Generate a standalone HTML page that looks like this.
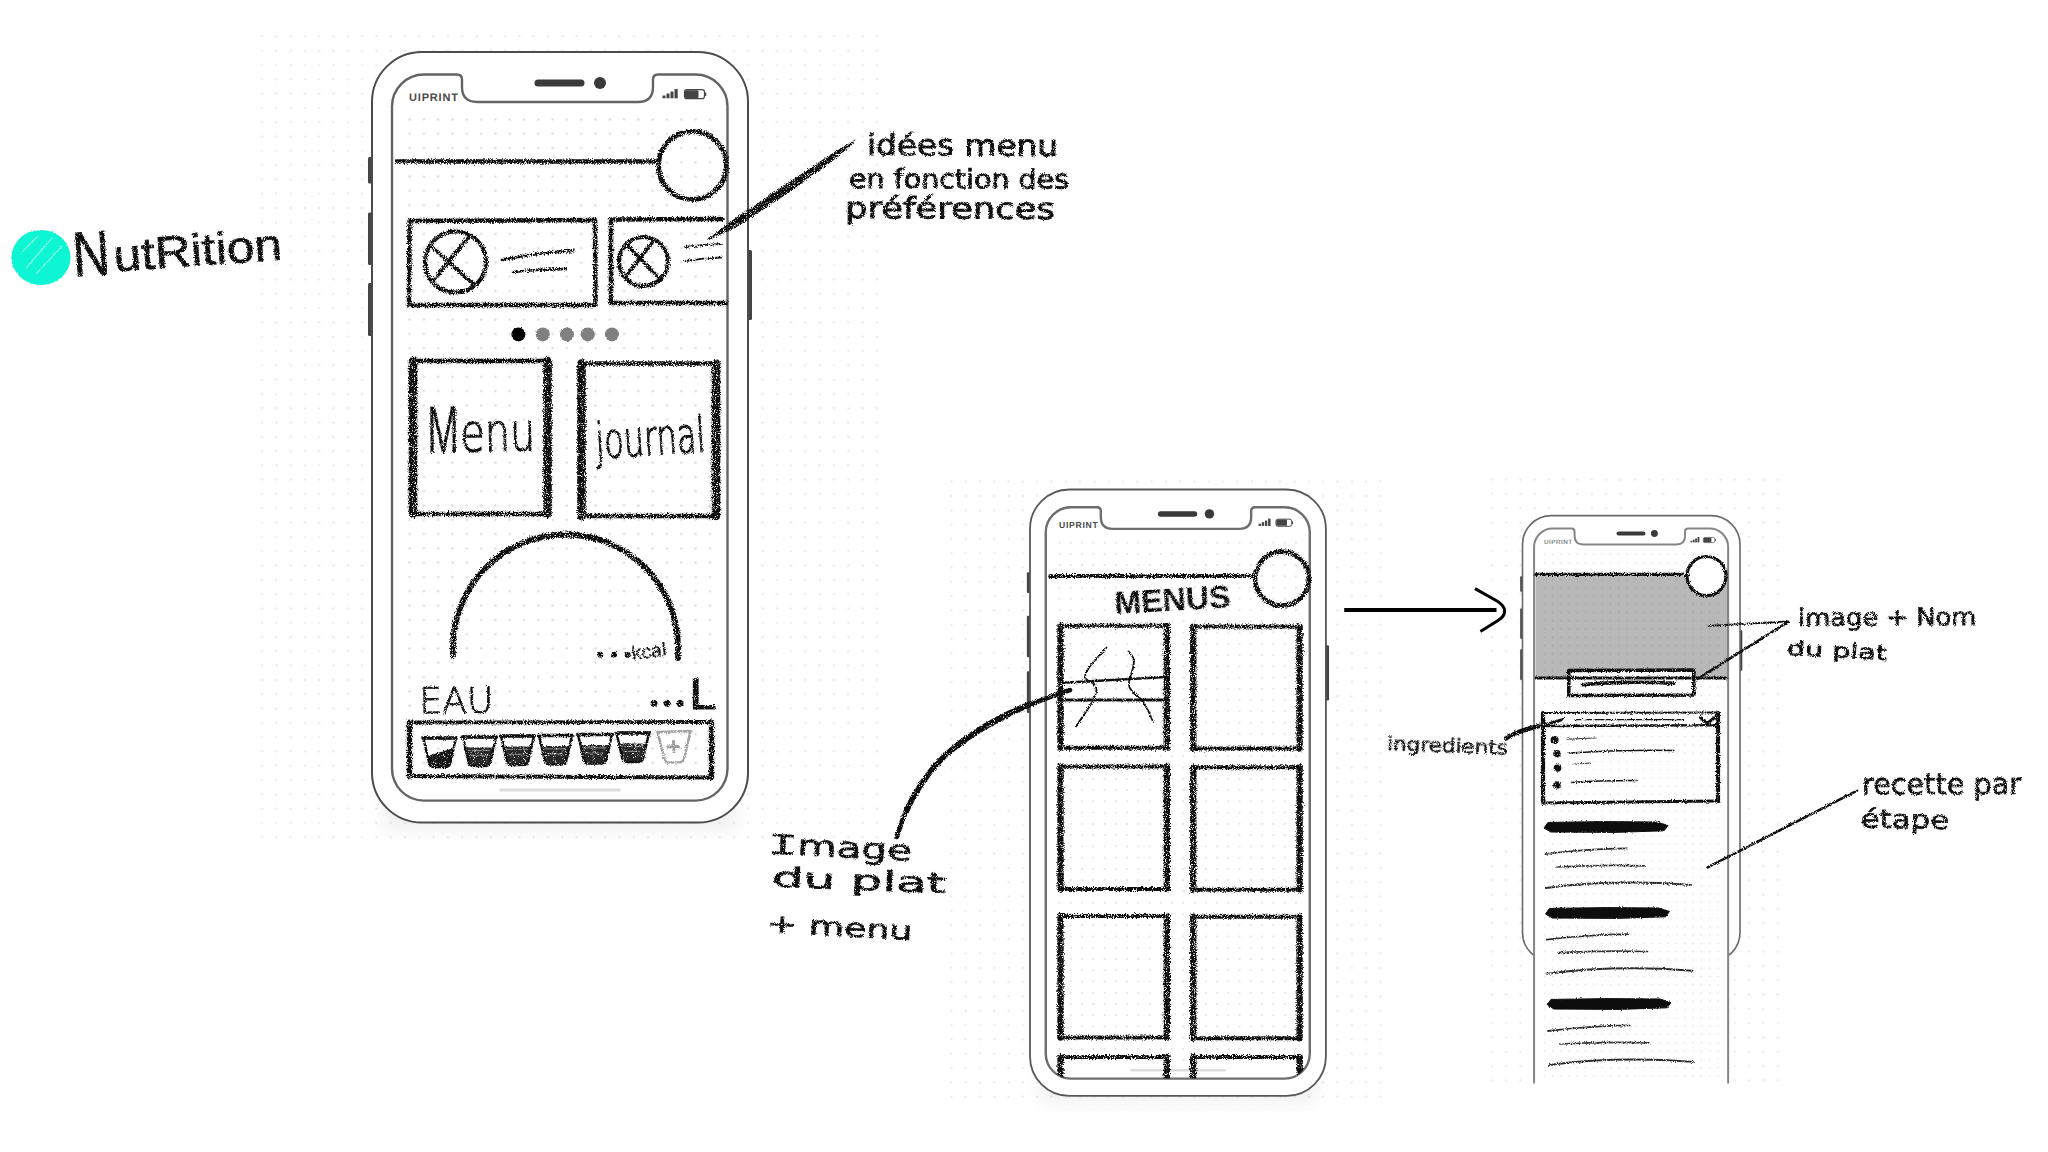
<!DOCTYPE html>
<html lang="fr"><head><meta charset="utf-8"><title>Nutrition – wireframes</title>
<style>html,body{margin:0;padding:0;background:#fff}body{width:2048px;height:1152px;overflow:hidden}svg{display:block;text-rendering:geometricPrecision}</style>
</head><body>
<svg width="2048" height="1152" viewBox="0 0 2048 1152">
<defs>
<pattern id="dots" patternUnits="userSpaceOnUse" x="30.45" y="60.25" width="14.3" height="14.3"><circle cx="7.15" cy="7.15" r="1.15" fill="#dadada"/></pattern>
<pattern id="bgdots" patternUnits="userSpaceOnUse" x="254.85" y="29.25" width="14.3" height="14.3"><circle cx="7.15" cy="7.15" r="1.25" fill="#ebebeb"/></pattern>
<filter id="rough" filterUnits="userSpaceOnUse" x="0" y="0" width="2048" height="1152"><feTurbulence type="fractalNoise" baseFrequency="0.95" numOctaves="2" seed="7" result="n"/><feDisplacementMap in="SourceGraphic" in2="n" scale="5" xChannelSelector="R" yChannelSelector="G" result="d"/><feTurbulence type="fractalNoise" baseFrequency="1.1" numOctaves="1" seed="23" result="g"/><feColorMatrix in="g" type="matrix" values="0 0 0 0 0 0 0 0 0 0 0 0 0 0 0 0 0 0 -7 4.95" result="m"/><feComposite in="d" in2="m" operator="in"/></filter>
<filter id="rough2" filterUnits="userSpaceOnUse" x="0" y="0" width="2048" height="1152"><feTurbulence type="fractalNoise" baseFrequency="0.9" numOctaves="2" seed="11" result="n"/><feDisplacementMap in="SourceGraphic" in2="n" scale="3.2" xChannelSelector="R" yChannelSelector="G" result="d"/><feTurbulence type="fractalNoise" baseFrequency="1.1" numOctaves="1" seed="29" result="g"/><feColorMatrix in="g" type="matrix" values="0 0 0 0 0 0 0 0 0 0 0 0 0 0 0 0 0 0 -7 5.15" result="m"/><feComposite in="d" in2="m" operator="in"/></filter>
<filter id="rough3" filterUnits="userSpaceOnUse" x="0" y="0" width="2048" height="1152"><feTurbulence type="fractalNoise" baseFrequency="0.8" numOctaves="2" seed="3" result="n"/><feDisplacementMap in="SourceGraphic" in2="n" scale="2.4" xChannelSelector="R" yChannelSelector="G"/></filter>
<filter id="soft" x="-10%" y="-10%" width="120%" height="120%"><feGaussianBlur stdDeviation="9"/></filter>
</defs>
<rect width="2048" height="1152" fill="#fff"/>

<rect x="258" y="33" width="628" height="812" fill="url(#bgdots)"/>
<rect x="942" y="474" width="440" height="634" fill="url(#bgdots)" transform="translate(3 2)"/>
<rect x="1490" y="474" width="290" height="610" fill="url(#bgdots)"/>
<g filter="url(#soft)" fill="#000" opacity="0.06"><rect x="384" y="780" width="352" height="50"/><rect x="1040" y="1060" width="276" height="42"/></g>
<g transform="translate(372 52) scale(1.0)">
<g fill="#444"><rect x="-4" y="105" width="5" height="26.5" rx="1.5"/><rect x="-4" y="160.5" width="5" height="52.5" rx="1.5"/><rect x="-4" y="231" width="5" height="53" rx="1.5"/><rect x="375" y="198" width="5" height="70" rx="1.5"/></g>
<rect x="0" y="0" width="376" height="770.5" rx="50" fill="#fff" stroke="#4c4c4c" stroke-width="2.00"/>
<rect x="30" y="60" width="318" height="675.0" fill="url(#dots)"/>
<path d="M20,54.5 A32,32 0 0 1 52,22.5 H85 Q90,22.5 90,27.5 V35 Q90,50 105,50 H266 Q281,50 281,35 V27.5 Q281,22.5 286,22.5 H323.5 A32,32 0 0 1 355.5,54.5 V716.6 A32,32 0 0 1 323.5,748.6 H52 A32,32 0 0 1 20,716.6 Z" fill="none" stroke="#646464" stroke-width="2.40"/>
<line x1="166" y1="31" x2="209" y2="31" stroke="#3a3a3a" stroke-width="7" stroke-linecap="round"/><circle cx="228" cy="31" r="6" fill="#3a3a3a"/>
<text x="37" y="49.3" font-family='"Liberation Sans", sans-serif' font-size="11" font-weight="700" fill="#4a4a4a" textLength="49" lengthAdjust="spacing">UIPRINT</text>
<g fill="#444"><rect x="290.5" y="43.5" width="3" height="2.8"/><rect x="294.5" y="41.5" width="3" height="4.8"/><rect x="298.5" y="39.5" width="3" height="6.8"/><rect x="302.5" y="37" width="3.2" height="9.3"/>
<rect x="313" y="38.2" width="13.5" height="8" rx="1.5"/></g><rect x="312.5" y="37.7" width="20" height="9" rx="2.5" fill="none" stroke="#444" stroke-width="1.2"/><path d="M333.5,40.5 v3.5" stroke="#444" stroke-width="1.5" fill="none"/>
<line x1="129" y1="738" x2="247" y2="738" stroke="#dcdcdc" stroke-width="3.2" stroke-linecap="round"/>
</g>
<g transform="translate(1030 489.5) scale(0.787)">
<g fill="#444"><rect x="-4" y="105" width="5" height="26.5" rx="1.5"/><rect x="-4" y="160.5" width="5" height="52.5" rx="1.5"/><rect x="-4" y="231" width="5" height="53" rx="1.5"/><rect x="375" y="198" width="5" height="70" rx="1.5"/></g>
<rect x="0" y="0" width="376" height="770.5" rx="50" fill="#fff" stroke="#585858" stroke-width="2.29"/>
<rect x="30" y="60" width="318" height="675.0" fill="url(#dots)"/>
<path d="M20,54.5 A32,32 0 0 1 52,22.5 H85 Q90,22.5 90,27.5 V35 Q90,50 105,50 H266 Q281,50 281,35 V27.5 Q281,22.5 286,22.5 H323.5 A32,32 0 0 1 355.5,54.5 V716.6 A32,32 0 0 1 323.5,748.6 H52 A32,32 0 0 1 20,716.6 Z" fill="none" stroke="#6e6e6e" stroke-width="3.05"/>
<line x1="166" y1="31" x2="209" y2="31" stroke="#3a3a3a" stroke-width="7" stroke-linecap="round"/><circle cx="228" cy="31" r="6" fill="#3a3a3a"/>
<text x="37" y="49.3" font-family='"Liberation Sans", sans-serif' font-size="11" font-weight="700" fill="#4a4a4a" textLength="49" lengthAdjust="spacing">UIPRINT</text>
<g fill="#444"><rect x="290.5" y="43.5" width="3" height="2.8"/><rect x="294.5" y="41.5" width="3" height="4.8"/><rect x="298.5" y="39.5" width="3" height="6.8"/><rect x="302.5" y="37" width="3.2" height="9.3"/>
<rect x="313" y="38.2" width="13.5" height="8" rx="1.5"/></g><rect x="312.5" y="37.7" width="20" height="9" rx="2.5" fill="none" stroke="#444" stroke-width="1.2"/><path d="M333.5,40.5 v3.5" stroke="#444" stroke-width="1.5" fill="none"/>
<line x1="129" y1="738" x2="247" y2="738" stroke="#dcdcdc" stroke-width="3.2" stroke-linecap="round"/>
</g>
<g transform="translate(1522.5 515.6) scale(0.5785)">
<g fill="#444"><rect x="-4" y="105" width="5" height="26.5" rx="1.5"/><rect x="-4" y="160.5" width="5" height="52.5" rx="1.5"/><rect x="-4" y="231" width="5" height="53" rx="1.5"/><rect x="375" y="198" width="5" height="70" rx="1.5"/></g>
<rect x="0" y="0" width="376" height="770.5" rx="50" fill="#fff" stroke="#6a6a6a" stroke-width="2.77"/>
<rect x="20" y="710.5" width="335.5" height="271.176750216076" fill="#fff"/>
<rect x="30" y="60" width="318" height="919.7" fill="url(#dots)"/>
<path d="M20,54.5 A32,32 0 0 1 52,22.5 H85 Q90,22.5 90,27.5 V35 Q90,50 105,50 H266 Q281,50 281,35 V27.5 Q281,22.5 286,22.5 H323.5 A32,32 0 0 1 355.5,54.5 V981.676750216076 M20,981.676750216076 V54.5" fill="none" stroke="#858585" stroke-width="3.46"/>
<line x1="166" y1="31" x2="209" y2="31" stroke="#3a3a3a" stroke-width="7" stroke-linecap="round"/><circle cx="228" cy="31" r="6" fill="#3a3a3a"/>
<text x="37" y="49.3" font-family='"Liberation Sans", sans-serif' font-size="11" font-weight="700" fill="#8a8a8a" textLength="49" lengthAdjust="spacing">UIPRINT</text>
<g fill="#444"><rect x="290.5" y="43.5" width="3" height="2.8"/><rect x="294.5" y="41.5" width="3" height="4.8"/><rect x="298.5" y="39.5" width="3" height="6.8"/><rect x="302.5" y="37" width="3.2" height="9.3"/>
<rect x="313" y="38.2" width="13.5" height="8" rx="1.5"/></g><rect x="312.5" y="37.7" width="20" height="9" rx="2.5" fill="none" stroke="#444" stroke-width="1.2"/><path d="M333.5,40.5 v3.5" stroke="#444" stroke-width="1.5" fill="none"/>
</g>
<rect x="1535.5" y="575.5" width="192" height="102.5" fill="#000" fill-opacity="0.28"/><circle cx="1706.5" cy="576" r="19.5" fill="#fff"/><rect x="1568.8" y="670.3" width="125" height="25" fill="#fff"/>
<g filter="url(#rough)" fill="none" stroke="#111" stroke-linecap="round" stroke-linejoin="round">
<path d="M397,161.5 H658" stroke-width="4.6"/>
<circle cx="692.5" cy="165.5" r="34" stroke-width="5"/>
<path d="M409.5,221 L595,220 L595.5,305 L409,305 Z" stroke-width="4.6"/>
<circle cx="455.5" cy="262" r="30.5" stroke-width="4.2"/>
<path d="M430,245 L474,285 M469,236 L434,280" stroke-width="4"/>
<path d="M502,260 Q540,252 574,251" stroke-width="2.8"/><path d="M513,272 Q540,269 566,269" stroke-width="2.4"/>
<path d="M722,219 L611,219.5 L611,303 L726,303" stroke-width="4.6"/>
<circle cx="643.5" cy="261.5" r="24.5" stroke-width="4.2"/>
<path d="M628,246 L661,280 M653,241 L627,275" stroke-width="3.8"/>
<path d="M685,247 Q704,244.5 721,244" stroke-width="2"/><path d="M685,261 Q704,258 721,257.5" stroke-width="2"/>
<path d="M413,361 V514 M547.5,361 V514" stroke-width="8.6"/><path d="M413,361 H547.5 M413,514 H547.5" stroke-width="4.5"/>
<path d="M581.5,363.5 V516 M716,363.5 V516" stroke-width="8.6"/><path d="M581.5,363.5 H716 M581.5,516 H716" stroke-width="4.5"/>
<path d="M453,655 V647 A112.5,112.5 0 0 1 678,647 V658" stroke-width="5.8"/>
<path d="M409.5,722.5 L711.5,722 M711,777.5 L409.5,776" stroke-width="3.8"/><path d="M409.5,722.5 V776 M711.5,722 V777.5" stroke-width="5.4"/>
<path d="M708.5,239.5 L730,222.5 L780,189 L830,155.5 L855,140.5 L836,157.5 L788,192.5 L738,225.5 Z" fill="#111" stroke-width="1.2"/>
<path d="M1050,576 H1254" stroke-width="4"/><circle cx="1282" cy="578.6" r="27" stroke-width="4.6"/>
<path d="M1060.5,625.8 V747.8 M1166.8,625.8 V747.8" stroke-width="6.4"/><path d="M1060.5,625.8 H1166.8 M1060.5,747.8 H1166.8" stroke-width="4"/>
<path d="M1193.3,626.5999999999999 V748.5999999999999 M1299.6,626.5999999999999 V748.5999999999999" stroke-width="6.4"/><path d="M1193.3,626.5999999999999 H1299.6 M1193.3,748.5999999999999 H1299.6" stroke-width="4"/>
<path d="M1060.5,766.5 V889.0 M1166.8,766.5 V889.0" stroke-width="6.4"/><path d="M1060.5,766.5 H1166.8 M1060.5,889.0 H1166.8" stroke-width="4"/>
<path d="M1193.3,767.3 V889.8 M1299.6,767.3 V889.8" stroke-width="6.4"/><path d="M1193.3,767.3 H1299.6 M1193.3,889.8 H1299.6" stroke-width="4"/>
<path d="M1060.5,916.0 V1037.5 M1166.8,916.0 V1037.5" stroke-width="6.4"/><path d="M1060.5,916.0 H1166.8 M1060.5,1037.5 H1166.8" stroke-width="4"/>
<path d="M1193.3,916.8 V1038.3 M1299.6,916.8 V1038.3" stroke-width="6.4"/><path d="M1193.3,916.8 H1299.6 M1193.3,1038.3 H1299.6" stroke-width="4"/>
</g>
<clipPath id="scr2"><path d="M1045.7,1000 H1309.8 V1053.4 A25.2,25.2 0 0 1 1284.6,1078.6 H1070.9 A25.2,25.2 0 0 1 1045.7,1053.4 Z"/></clipPath>
<g clip-path="url(#scr2)"><g filter="url(#rough)" fill="none" stroke="#111" stroke-linecap="round">
<path d="M1060.5,1057 V1120 M1166.8,1057 V1120" stroke-width="6.4"/><path d="M1060.5,1057 H1166.8" stroke-width="4"/>
<path d="M1193.3,1057 V1120 M1299.6,1057 V1120" stroke-width="6.4"/><path d="M1193.3,1057 H1299.6" stroke-width="4"/>
</g></g>
<g filter="url(#rough2)" fill="none" stroke="#111" stroke-linecap="round" stroke-linejoin="round">
<path d="M1063,682.7 L1166,677" stroke-width="2.6"/><path d="M1063,700 H1166" stroke-width="3"/>
<path d="M1106.6,647.5 C1096,660 1086,668 1084.8,677 C1086,682 1096,682 1096.5,689 C1096,700 1084,714 1076,726.4" stroke-width="1.8"/>
<path d="M1128.5,651.4 C1135,658 1134.5,662 1133,668 C1131,676 1127.5,681 1129.3,686.5 C1131,692 1136,694 1139.4,697.5 C1146,704 1149,712 1152.7,721" stroke-width="1.8"/>
<path d="M1070,690 C1020,706 960,735 930,772 C912,795 903,815 896.7,837" stroke-width="4.6"/>
<path d="M1030,704 C990,720 952,744 930,772 C920,785 912,798 906,812" stroke-width="5.6"/>
<path d="M1536,574.4 H1688" stroke-width="3.4"/><circle cx="1706.5" cy="576" r="19.5" stroke-width="3.2"/>
<path d="M1536,678 H1726" stroke-width="3"/>
<path d="M1568.8,670.5 L1693.8,670 L1693.8,695 L1568.8,695.5 Z" stroke-width="3.6"/>
<path d="M1582.5,684.6 Q1630,680.5 1673.8,683.4" stroke-width="3.6"/>
<path d="M1543,713 V803 M1718,713 V801" stroke-width="4.2"/><path d="M1543,713 L1718,712.5" stroke-width="2.2"/><path d="M1543,803 L1718,801" stroke-width="3"/><path d="M1543,726 L1718,725.3" stroke-width="2.6"/>
<path d="M1575,719.6 H1684" stroke-width="1.4"/><path d="M1700.5,717.6 L1707.5,723.2 L1715,717.2" stroke-width="3.2"/>
<g fill="#111" stroke="none"><circle cx="1554.6" cy="740" r="4"/><circle cx="1557" cy="753.8" r="3.8"/><circle cx="1557.5" cy="768" r="3.8"/><circle cx="1557" cy="785" r="3.8"/></g>
<path d="M1567,739.2 L1596,738" stroke-width="1.2" stroke="#444"/><path d="M1569,753 Q1620,749.5 1673.8,750.5" stroke-width="1.6"/><path d="M1574,764 L1590,763.2" stroke-width="1.2" stroke="#444"/><path d="M1571,782.5 Q1600,780.5 1637,780.6" stroke-width="1.5"/>
</g><g filter="url(#rough3)" fill="#0c0c0c" stroke="#0c0c0c" stroke-linejoin="round">
<path d="M1544,828 L1548,822.4 L1605,821.6 L1657,822 L1668,825.5 L1664,830.8 L1615,832.4 L1551,832 Z" stroke-width="1"/>
<path d="M1545.5,914 L1549.5,908.4 L1606.5,907.6 L1658.5,908 L1669.5,911.5 L1665.5,916.8 L1616.5,918.4 L1552.5,918 Z" stroke-width="1"/>
<path d="M1547,1005 L1551,999.4 L1608,998.6 L1660,999 L1671,1002.5 L1667,1007.8 L1618,1009.4 L1554,1009 Z" stroke-width="1"/>
</g><g filter="url(#rough2)" fill="none" stroke="#111" stroke-linecap="round" stroke-linejoin="round">
<path d="M1545,854 Q1585,849 1627,848.4" stroke-width="1.8" stroke="#2a2a2a"/>
<path d="M1557,867 Q1600,864.5 1646,865.8" stroke-width="1.7" stroke="#333"/>
<path d="M1546,888 Q1615,879 1691,885" stroke-width="2" stroke="#2a2a2a"/>
<path d="M1546.5,939.7 Q1586.5,934.7 1628.5,934.1" stroke-width="1.8" stroke="#2a2a2a"/>
<path d="M1558.5,952.7 Q1601.5,950.2 1647.5,951.5" stroke-width="1.7" stroke="#333"/>
<path d="M1547.5,973.7 Q1616.5,964.7 1692.5,970.7" stroke-width="2" stroke="#2a2a2a"/>
<path d="M1548,1031 Q1588,1026 1630,1025.4" stroke-width="1.8" stroke="#2a2a2a"/>
<path d="M1560,1044 Q1603,1041.5 1649,1042.8" stroke-width="1.7" stroke="#333"/>
<path d="M1549,1065 Q1618,1056 1694,1062" stroke-width="2" stroke="#2a2a2a"/>
<path d="M1708.6,625.8 L1788,621.4" stroke-width="1.8"/><path d="M1788,622 L1697.5,678.8" stroke-width="2.6"/>
<path d="M1707.6,867.4 L1857,790.6" stroke-width="2.6"/>
<path d="M1506.5,738 C1520,729 1545,726 1563,719.4" stroke-width="3"/><path d="M1506.5,738 C1516,731.5 1528,728.5 1540,725.8" stroke-width="4.6"/>
</g>
<path d="M1344.2,610 H1496.5" stroke="#000" stroke-width="4" fill="none"/>
<path d="M1475,588.6 L1497,601 C1507,607 1507,615 1498,620.5 L1480.4,631.5" stroke="#000" stroke-width="3" fill="none"/>
<g filter="url(#rough3)"><circle cx="518.4" cy="334.4" r="7" fill="#000"/><g fill="#808080"><circle cx="542.8" cy="334.4" r="7"/><circle cx="567" cy="334.4" r="7"/><circle cx="587.8" cy="334.4" r="7"/><circle cx="612" cy="334.4" r="7"/></g></g>
<g filter="url(#rough2)" stroke-linejoin="round" stroke-linecap="round">
<path d="M427.4,756.0 L453.8,747.9 L450.1,763.5 Q449.1,767 445.0,767 L434.4,767 Q430.3,767 429.3,763.5 Z" fill="#161616" stroke="none"/>
<path d="M423.4,738 L456,738 L450.1,763.5 Q449.1,767 445.0,767 L434.4,767 Q430.3,767 429.3,763.5 Z" fill="none" stroke="#111" stroke-width="2.5"/><path d="M422.9,738 H456.5" stroke="#111" stroke-width="3.4" fill="none"/>
<path d="M465.1,747.4 L493.7,747.4 L490.1,762.5 Q489.1,766 485.0,766 L473.8,766 Q469.7,766 468.7,762.5 Z" fill="#262626" stroke="none"/>
<path d="M468.1,750.4 H489.7 M471.1,755.4 H486.7" stroke="#9a9a9a" stroke-width="0.9" fill="none"/>
<path d="M462.8,737 L496,737 L490.1,762.5 Q489.1,766 485.0,766 L473.8,766 Q469.7,766 468.7,762.5 Z" fill="none" stroke="#111" stroke-width="2.5"/><path d="M462.3,737 H496.5" stroke="#111" stroke-width="3.4" fill="none"/>
<path d="M503.3,746.4 L531.7,746.4 L528.1,761.5 Q527.1,765 523.0,765 L512.0,765 Q507.9,765 506.9,761.5 Z" fill="#262626" stroke="none"/>
<path d="M506.3,749.4 H527.7 M509.3,754.4 H524.7" stroke="#9a9a9a" stroke-width="0.9" fill="none"/>
<path d="M501,736 L534,736 L528.1,761.5 Q527.1,765 523.0,765 L512.0,765 Q507.9,765 506.9,761.5 Z" fill="none" stroke="#111" stroke-width="2.5"/><path d="M500.5,736 H534.5" stroke="#111" stroke-width="3.4" fill="none"/>
<path d="M541.3,745.9 L569.7,745.9 L566.1,761.0 Q565.1,764.5 561.0,764.5 L550.0,764.5 Q545.9,764.5 544.9,761.0 Z" fill="#262626" stroke="none"/>
<path d="M544.3,748.9 H565.7 M547.3,753.9 H562.7" stroke="#9a9a9a" stroke-width="0.9" fill="none"/>
<path d="M539,735.5 L572,735.5 L566.1,761.0 Q565.1,764.5 561.0,764.5 L550.0,764.5 Q545.9,764.5 544.9,761.0 Z" fill="none" stroke="#111" stroke-width="2.5"/><path d="M538.5,735.5 H572.5" stroke="#111" stroke-width="3.4" fill="none"/>
<path d="M580.3,744.9 L609.7,744.9 L606.1,760.0 Q605.1,763.5 601.0,763.5 L589.0,763.5 Q584.9,763.5 583.9,760.0 Z" fill="#262626" stroke="none"/>
<path d="M583.3,747.9 H605.7 M586.3,752.9 H602.7" stroke="#9a9a9a" stroke-width="0.9" fill="none"/>
<path d="M578,734.5 L612,734.5 L606.1,760.0 Q605.1,763.5 601.0,763.5 L589.0,763.5 Q584.9,763.5 583.9,760.0 Z" fill="none" stroke="#111" stroke-width="2.5"/><path d="M577.5,734.5 H612.5" stroke="#111" stroke-width="3.4" fill="none"/>
<path d="M618.8,743.4 L646.7,743.4 L643.1,758.5 Q642.1,762 638.0,762 L627.5,762 Q623.4,762 622.4,758.5 Z" fill="#262626" stroke="none"/>
<path d="M621.8,746.4 H642.7 M624.8,751.4 H639.7" stroke="#9a9a9a" stroke-width="0.9" fill="none"/>
<path d="M616.5,733 L649,733 L643.1,758.5 Q642.1,762 638.0,762 L627.5,762 Q623.4,762 622.4,758.5 Z" fill="none" stroke="#111" stroke-width="2.5"/><path d="M616.0,733 H649.5" stroke="#111" stroke-width="3.4" fill="none"/>
<path d="M657.5,732 L690.5,731 L684,759 Q683.4,762 680,762.2 L668,762.5 Q665.4,762.5 664.6,759.5 Z" fill="none" stroke="#a3a3a3" stroke-width="2.6"/>
</g>
<g filter="url(#rough3)"><ellipse cx="41" cy="257.5" rx="29.5" ry="27.5" fill="#0bf5d2"/><path d="M22,252 L38,236 M26,268 L52,238 M36,274 L62,246" stroke="#7dfbe6" stroke-width="1.3" fill="none"/></g>
<g filter="url(#rough2)">
<text transform="translate(74.0 276.5) rotate(-3.87)" font-family='"Liberation Sans", sans-serif' font-size="63.0" font-weight="400" fill="#111" stroke="#111" stroke-width="0.9" textLength="37.1" lengthAdjust="spacingAndGlyphs" >N</text>
<text transform="translate(114.5 271.5) rotate(-4.07)" font-family='"Liberation Sans", sans-serif' font-size="45.0" font-weight="400" fill="#111" stroke="#111" stroke-width="0.7" textLength="168.9" lengthAdjust="spacingAndGlyphs" >utRition</text>
<text transform="translate(427.5 453.0) rotate(-0.36)" font-family='"Liberation Sans", sans-serif' font-size="67.0" font-weight="400" fill="#111" stroke="#111" stroke-width="0.2" textLength="31.5" lengthAdjust="spacingAndGlyphs" >M</text>
<text transform="translate(460.5 451.5) rotate(-0.76)" font-family='"DejaVu Sans Light", "DejaVu Sans", "Liberation Sans", sans-serif' font-size="53.0" font-weight="400" fill="#111" stroke="#111" stroke-width="1.2" textLength="75.0" lengthAdjust="spacingAndGlyphs" >enu</text>
<text transform="translate(596.5 458.5) rotate(-3.66)" font-family='"DejaVu Sans Light", "DejaVu Sans", "Liberation Sans", sans-serif' font-size="49.4" font-weight="400" fill="#111" stroke="#111" stroke-width="1.25" textLength="109.7" lengthAdjust="spacingAndGlyphs" >journal</text>
<text transform="translate(596.5 662.0) rotate(0.00)" font-family='"Liberation Sans", sans-serif' font-size="22.0" font-weight="400" fill="#111" textLength="35.0" lengthAdjust="spacing" >•••</text>
<text transform="translate(632.4 660.0) rotate(-7.25)" font-family='"Liberation Sans", sans-serif' font-size="19.3" font-weight="400" fill="#111" stroke="#111" stroke-width="0.3" textLength="34.9" lengthAdjust="spacingAndGlyphs" >kcal</text>
<text transform="translate(419.5 713.2) rotate(-0.46)" font-family='"DejaVu Sans Light", "DejaVu Sans", "Liberation Sans", sans-serif' font-size="35.8" font-weight="400" fill="#111" stroke="#111" stroke-width="0.8" textLength="74.0" lengthAdjust="spacingAndGlyphs" >EAU</text>
<text transform="translate(649.5 711.8) rotate(0.00)" font-family='"Liberation Sans", sans-serif' font-size="26.0" font-weight="400" fill="#111" textLength="35.0" lengthAdjust="spacing" >•••</text>
<text transform="translate(689.5 709.0) rotate(0.00)" font-family='"Liberation Sans", sans-serif' font-size="44.0" font-weight="400" fill="#111" stroke="#111" stroke-width="1.2" textLength="27.0" lengthAdjust="spacingAndGlyphs" >L</text>
<text transform="translate(667.0 754.5) rotate(-2.05)" font-family='"Liberation Sans", sans-serif' font-size="23.0" font-weight="400" fill="#999" stroke="#999" stroke-width="1.1" textLength="14.0" lengthAdjust="spacingAndGlyphs" >+</text>
<text transform="translate(867.0 155.0) rotate(0.30)" font-family='"DejaVu Sans", "Liberation Sans", sans-serif' font-size="29.3" font-weight="400" fill="#111" stroke="#111" stroke-width="0.9" textLength="191.0" lengthAdjust="spacingAndGlyphs" >idées menu</text>
<text transform="translate(849.0 188.0) rotate(0.13)" font-family='"DejaVu Sans", "Liberation Sans", sans-serif' font-size="26.5" font-weight="400" fill="#111" stroke="#111" stroke-width="0.9" textLength="220.0" lengthAdjust="spacingAndGlyphs" >en fonction des</text>
<text transform="translate(845.0 218.0) rotate(0.27)" font-family='"DejaVu Sans", "Liberation Sans", sans-serif' font-size="29.3" font-weight="400" fill="#111" stroke="#111" stroke-width="0.9" textLength="210.0" lengthAdjust="spacingAndGlyphs" >préférences</text>
<text transform="translate(1115.0 614.0) rotate(-3.35)" font-family='"Liberation Sans", sans-serif' font-size="32.0" font-weight="700" fill="#111" textLength="116.2" lengthAdjust="spacingAndGlyphs" >MENUS</text>
<text transform="translate(767 853.6) rotate(2.8) scale(1.72 1)" font-family='"Liberation Mono", monospace' font-size="30" fill="#111" stroke="#111" stroke-width="0.3">I</text>
<text transform="translate(797.0 855.0) rotate(2.85)" font-family='"DejaVu Sans", "Liberation Sans", sans-serif' font-size="28.3" font-weight="400" fill="#111" stroke="#111" stroke-width="0.7" textLength="114.6" lengthAdjust="spacingAndGlyphs" >mage</text>
<text transform="translate(771.7 886.5) rotate(2.14)" font-family='"DejaVu Sans", "Liberation Sans", sans-serif' font-size="27.4" font-weight="400" fill="#111" stroke="#111" stroke-width="0.7" textLength="174.4" lengthAdjust="spacingAndGlyphs" >du plat</text>
<text transform="translate(766.5 932.0) rotate(3.15)" font-family='"DejaVu Sans", "Liberation Sans", sans-serif' font-size="25.6" font-weight="400" fill="#111" stroke="#111" stroke-width="0.7" textLength="145.7" lengthAdjust="spacingAndGlyphs" >+ menu</text>
<text transform="translate(1798.0 626.0) rotate(-0.32)" font-family='"DejaVu Sans", "Liberation Sans", sans-serif' font-size="24.1" font-weight="400" fill="#111" stroke="#111" stroke-width="0.7" textLength="178.5" lengthAdjust="spacingAndGlyphs" >image + Nom</text>
<text transform="translate(1786.7 655.0) rotate(2.86)" font-family='"DejaVu Sans", "Liberation Sans", sans-serif' font-size="20.1" font-weight="400" fill="#111" stroke="#111" stroke-width="0.7" textLength="100.1" lengthAdjust="spacingAndGlyphs" >du plat</text>
<text transform="translate(1387.0 750.0) rotate(2.14)" font-family='"DejaVu Sans", "Liberation Sans", sans-serif' font-size="19.2" font-weight="400" fill="#111" stroke="#111" stroke-width="0.5" textLength="120.8" lengthAdjust="spacingAndGlyphs" >ingredients</text>
<text transform="translate(1862.0 794.4) rotate(-0.14)" font-family='"DejaVu Sans", "Liberation Sans", sans-serif' font-size="29.3" font-weight="400" fill="#111" stroke="#111" stroke-width="0.7" textLength="159.0" lengthAdjust="spacingAndGlyphs" >recette par</text>
<text transform="translate(1860.6 827.5) rotate(0.97)" font-family='"DejaVu Sans", "Liberation Sans", sans-serif' font-size="25.6" font-weight="400" fill="#111" stroke="#111" stroke-width="0.7" textLength="88.4" lengthAdjust="spacingAndGlyphs" >étape</text>
</g>
</svg>
</body></html>
